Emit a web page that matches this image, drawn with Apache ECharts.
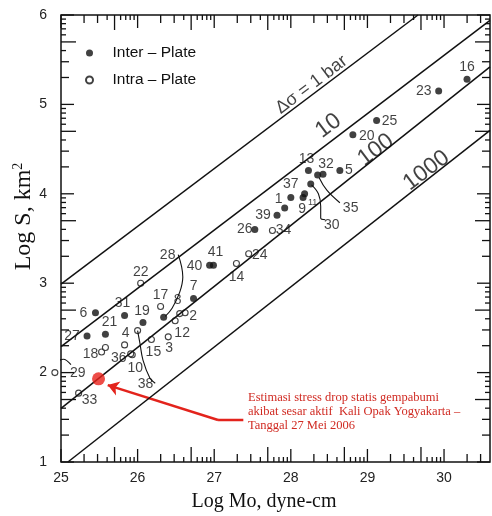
<!DOCTYPE html>
<html>
<head>
<meta charset="utf-8">
<script src="https://cdn.jsdelivr.net/npm/echarts@6/dist/echarts.min.js"></script>
<style>
  html, body { margin: 0; padding: 0; background: #fff; }
  #chart { width: 492px; height: 516px; }
</style>
</head>
<body>
<div id="chart"></div>
<script>
// axis range (log Mo, log S)
const X_MIN = 25, X_MAX = 30.6, Y_MIN = 1, Y_MAX = 6;

// inter-plate events (filled dots): [log Mo, log S]
const interIds = ['1', '5', '6', '7', '9', '11', '13', '16', '19', '20', '21', '23', '25', '26', '27', '28', '30', '31', '32', '35', '37', '39', '40', '41'];
const interPts = [
    [27.92, 3.84], [28.64, 4.26], [25.45, 2.67], [26.73, 2.83], [28.16, 3.96], [28.18, 4.00],
    [28.23, 4.26], [30.30, 5.28], [26.07, 2.56], [28.81, 4.66], [25.58, 2.43], [29.93, 5.15],
    [29.12, 4.82], [27.53, 3.60], [25.34, 2.41], [26.34, 2.62], [28.26, 4.11], [25.83, 2.64],
    [28.42, 4.22], [28.35, 4.21], [28.00, 3.96], [27.82, 3.76], [26.94, 3.20], [26.99, 3.20]
];

// intra-plate events (open circles)
const intraIds = ['2', '3', '4', '8', '10', '12', '14', '15', '17', '18', '', '22', '24', '29', '33', '34', '36', '38'];
const intraPts = [
    [26.62, 2.67], [26.40, 2.40], [25.83, 2.31], [26.55, 2.66], [25.93, 2.20], [26.49, 2.58],
    [27.29, 3.22], [26.18, 2.37], [26.30, 2.74], [25.53, 2.23], [25.58, 2.28], [26.04, 3.00],
    [27.45, 3.33], [24.92, 2.00], [25.23, 1.77], [27.76, 3.59], [25.91, 2.21], [26.00, 2.47]
];

// Kali Opak 27 Mei 2006 estimate
const opakPt = [25.49, 1.93];

// constant stress drop lines
const dropNames = ['Δσ = 1 bar', '10', '100', '1000'];
const dropLines = [
    [[25, 2.99], [29.66, 6.00]],
    [[25, 2.29], [30.6, 5.94]],
    [[25, 1.60], [30.6, 5.42]],
    [[25.09, 1.00], [30.6, 4.71]]
];
const dropLabelAt = [[28.27, 5.22], [28.49, 4.76], [29.11, 4.49], [29.77, 4.26]];

// hand drawn leader curves from label to point
const leaders = [
    [[26.53, 3.32], [26.59, 3.07], [26.55, 2.90], [26.45, 2.72], [26.36, 2.63]],   // 28
    [[26.00, 2.47], [26.03, 2.33], [26.07, 2.14], [26.16, 1.94], [26.23, 1.88]],   // 38
    [[24.92, 2.00], [24.95, 2.11], [25.03, 2.15], [25.13, 2.09]],                  // 29
    [[28.37, 4.18], [28.47, 4.04], [28.64, 3.90]],                                 // 35
    [[28.27, 4.10], [28.36, 4.00], [28.39, 3.86], [28.39, 3.73], [28.45, 3.71]]    // 30
];

// red arrow to the estimate
const arrowBend = [[27.38, 1.47], [27.05, 1.47]];
const arrowHead = [[27.05, 1.47], [25.61, 1.86]];

const noteText = 'Estimasi stress drop statis gempabumi\nakibat sesar aktif  Kali Opak Yogyakarta –\nTanggal 27 Mei 2006';

// label placement (pixel offset from the dot)
const labelOffset = {
    '1': [-6, -9], '5': [9, 0], '6': [-12, 0], '7': [0, -12], '9': [-1, 12], '11': [8, 9],
    '13': [-2, -11], '16': [0, -12], '19': [-1, -11], '20': [14, 1], '21': [4, -12], '23': [-15, 0],
    '25': [13, 1], '26': [-10, 0], '27': [-15, 0], '28': [4, -62], '30': [21, 41], '31': [-2, -12],
    '32': [3, -10], '35': [33, 33], '37': [0, -13], '39': [-14, 0], '40': [-15, 1], '41': [2, -13],
    '2': [8, 3], '3': [1, 11], '4': [1, -12], '8': [-2, -13], '10': [3, 13], '12': [7, 12],
    '14': [0, 14], '15': [2, 13], '17': [0, -11], '18': [-11, 2], '22': [0, -11], '24': [11, 1],
    '29': [23, 1], '33': [11, 7], '34': [11, 0], '36': [-12, 4], '38': [8, 54]
};

// log style ticks: d + log10(k)
function logTicks(lo, hi) {
    const out = [];
    for (let d = Math.floor(lo); d <= hi; d++) {
        for (let k = 1; k <= 9; k++) {
            const v = d + Math.log10(k);
            if (v >= lo - 1e-9 && v <= hi + 1e-9) out.push([v, k]);
        }
    }
    return out;
}
const tickLen = k => (k === 1 ? 13 : k === 5 ? 15 : k <= 3 ? 8 : 5);
const tickStyle = { stroke: '#111', lineWidth: 1.3 };

const labelFont = '"Liberation Sans Narrow", "Liberation Sans", sans-serif';

function pointItems(ids, pts) {
    return pts.map((p, i) => ({
        value: p,
        name: ids[i],
        label: {
            show: ids[i] !== '',
            offset: labelOffset[ids[i]] || [0, 0],
            fontSize: ids[i] === '11' ? 9 : 14
        }
    }));
}

const chart = echarts.init(document.getElementById('chart'));

const series = [
    {
        type: 'custom',
        silent: true,
        data: logTicks(X_MIN, X_MAX).map(t => [t[0], Y_MIN, t[1]]),
        encode: { x: 0, y: 1 },
        renderItem: (params, api) => {
            const v = api.value(0), len = tickLen(api.value(2));
            const b = api.coord([v, Y_MIN]), t = api.coord([v, Y_MAX]);
            return {
                type: 'group', children: [
                    { type: 'line', shape: { x1: b[0], y1: b[1], x2: b[0], y2: b[1] - len }, style: tickStyle },
                    { type: 'line', shape: { x1: t[0], y1: t[1], x2: t[0], y2: t[1] + len }, style: tickStyle }
                ]
            };
        }
    },
    {
        type: 'custom',
        silent: true,
        data: logTicks(Y_MIN, Y_MAX).map(t => [X_MIN, t[0], t[1]]),
        encode: { x: 0, y: 1 },
        renderItem: (params, api) => {
            const v = api.value(1), len = tickLen(api.value(2));
            const l = api.coord([X_MIN, v]), r = api.coord([X_MAX, v]);
            return {
                type: 'group', children: [
                    { type: 'line', shape: { x1: l[0], y1: l[1], x2: l[0] + len, y2: l[1] }, style: tickStyle },
                    { type: 'line', shape: { x1: r[0], y1: r[1], x2: r[0] - len, y2: r[1] }, style: tickStyle }
                ]
            };
        }
    }
];

dropLines.forEach(seg => {
    series.push({
        type: 'line', data: seg, symbol: 'none', silent: true,
        lineStyle: { color: '#111', width: 1.5 }
    });
});

series.push({
    type: 'scatter', silent: true, symbolSize: 0,
    data: dropLabelAt.map((p, i) => ({ value: p, name: dropNames[i], label: { fontSize: i === 0 ? 18 : 23 } })),
    label: {
        show: true, position: 'inside', rotate: 37,
        formatter: '{b}', color: '#111',
        fontFamily: labelFont
    },
    labelLayout: { hideOverlap: false }
});

leaders.forEach(c => {
    series.push({
        type: 'line', data: c, symbol: 'none', smooth: 0.4, silent: true, clip: false,
        lineStyle: { color: '#111', width: 1.1 }
    });
});

series.push({
    name: 'Inter – Plate', type: 'scatter', symbol: 'circle', symbolSize: 7, clip: false,
    itemStyle: { color: '#111' },
    label: { position: 'inside', formatter: '{b}', color: '#111', fontFamily: labelFont },
    data: pointItems(interIds, interPts)
});
series.push({
    name: 'Intra – Plate', type: 'scatter', symbol: 'circle', symbolSize: 6, clip: false,
    itemStyle: { color: '#fff', borderColor: '#111', borderWidth: 1.1 },
    label: { position: 'inside', formatter: '{b}', color: '#111', fontFamily: labelFont },
    data: pointItems(intraIds, intraPts)
});

series.push({
    type: 'line', data: arrowBend, symbol: 'none', silent: true,
    lineStyle: { color: '#e3231c', width: 2.5 }
});
series.push({
    type: 'lines', coordinateSystem: 'cartesian2d', silent: true,
    symbol: ['none', 'arrow'], symbolSize: 11,
    lineStyle: { color: '#e3231c', width: 2.5, opacity: 1 },
    data: [{ coords: arrowHead }]
});
series.push({
    type: 'scatter', symbolSize: 13, silent: true,
    itemStyle: { color: '#e8201a' },
    data: [opakPt],
    z: 5
});

const option = {
    animation: false,
    backgroundColor: '#fff',
    grid: {
        left: 61, right: 2, top: 15, bottom: 54,
        outerBoundsMode: 'none',
        show: true, borderColor: '#111', borderWidth: 1.5
    },
    legend: {
        data: ['Inter – Plate', 'Intra – Plate'],
        orient: 'vertical', left: 80, top: 40,
        icon: 'circle', itemWidth: 20, itemHeight: 7, itemGap: 11,
        textStyle: { fontSize: 15.5, fontFamily: labelFont, color: '#111', padding: [0, 0, 0, 8] }
    },
    xAxis: {
        type: 'value', min: X_MIN, max: X_MAX, interval: 1,
        axisLine: { show: false }, axisTick: { show: false }, splitLine: { show: false },
        axisLabel: { color: '#222', fontSize: 14, fontFamily: 'Liberation Sans', margin: 9, showMaxLabel: false },
        name: 'Log Mo, dyne-cm', nameLocation: 'middle', nameGap: 30,
        nameTextStyle: { fontFamily: 'Liberation Serif', fontSize: 20, color: '#111', padding: [0, 23, 0, 0] }
    },
    yAxis: {
        type: 'value', min: Y_MIN, max: Y_MAX, interval: 1,
        axisLine: { show: false }, axisTick: { show: false }, splitLine: { show: false },
        axisLabel: { color: '#222', fontSize: 14, fontFamily: 'Liberation Sans', margin: 14 },
        name: 'Log S, km{sup|2}', nameLocation: 'middle', nameGap: 24, nameMoveOverlap: false,
        nameTextStyle: {
            fontFamily: 'Liberation Serif', fontSize: 24, color: '#111', padding: [0, 0, 0, 44],
            rich: { sup: { fontFamily: 'Liberation Serif', fontSize: 14, color: '#111', verticalAlign: 'top', padding: [0, 0, 12, 0] } }
        }
    },
    graphic: [{
        type: 'text', left: 248, top: 391, silent: true,
        style: {
            text: noteText, fill: '#d02a22',
            font: '12.5px "Liberation Serif", serif', lineHeight: 14
        }
    }],
    series: series
};

chart.setOption(option);
</script>
</body>
</html>
